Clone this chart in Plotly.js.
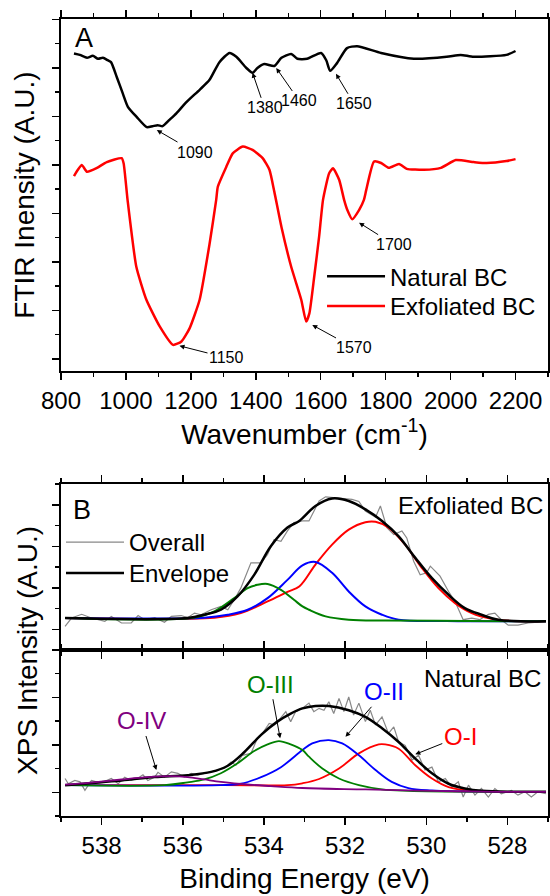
<!DOCTYPE html>
<html>
<head>
<meta charset="utf-8">
<script src="https://cdn.plot.ly/plotly-3.0.1.min.js"></script>
<style>html,body{margin:0;padding:0;background:#fff;}#chart{width:550px;height:896px;}</style>
</head>
<body>
<div id="chart"></div>
<script>
// ---------- FTIR data (panel A) ----------
const ftirNaturalX = [840,858,880,898,914,929,944,954,972,990,1006,1033,1064,1082,1098,1113,1134,1156,1187,1227,1257,1288,1319,1340,1371,1390,1405,1426,1457,1479,1509,1528,1558,1601,1617,1629,1650,1681,1712,1786,1887,1988,2031,2071,2172,2200];
const ftirNaturalY = [6.30,6.27,6.21,6.25,6.19,6.21,6.16,6.12,5.81,5.48,5.20,4.99,4.78,4.80,4.82,4.80,4.93,5.07,5.30,5.55,5.75,6.12,6.31,6.23,6.00,5.90,6.00,6.08,6.04,6.21,6.29,6.19,6.19,6.31,6.16,5.94,6.10,6.41,6.45,6.31,6.19,6.23,6.27,6.23,6.27,6.35];
const ftirExfolX = [840,852,864,880,911,941,987,993,1005,1032,1063,1104,1145,1171,1196,1227,1258,1278,1283,1309,1329,1360,1390,1421,1442,1457,1479,1509,1540,1555,1565,1580,1595,1607,1626,1638,1657,1672,1682,1697,1718,1733,1740,1764,1786,1810,1841,1865,1918,1970,2016,2071,2111,2172,2200];
const ftirExfolY = [3.77,3.90,4.00,3.86,3.94,4.06,4.14,4.03,3.28,1.90,1.22,0.67,0.29,0.36,0.63,1.22,2.39,3.28,3.55,3.96,4.24,4.38,4.31,4.14,3.90,3.45,2.72,1.90,1.22,0.77,0.94,1.70,2.52,3.28,3.83,3.93,3.69,3.28,3.07,2.88,3.07,3.28,3.48,4.07,4.04,3.94,4.02,3.92,3.90,3.94,4.10,4.06,4.04,4.08,4.12];
const ftirSeriesNames = ['Natural BC','Exfoliated BC'];
const ftirPeakLabels = ['1090','1380','1460','1650','1150','1570','1700'];
const ftirPeakX = [1095,1390,1463,1647,1165,1574,1718];
const ftirPeakY = [4.72,5.90,6.00,5.88,0.27,0.70,2.81];

// ---------- XPS data (panel B) : Exfoliated BC ----------
const exfOverallX = [538.90,538.74,538.49,538.25,537.92,537.76,537.51,537.27,537.10,536.94,536.69,536.45,536.28,536.04,535.88,535.71,535.55,535.30,535.06,534.89,534.73,534.57,534.32,534.07,533.91,533.75,533.58,533.42,533.26,533.05,532.89,532.64,532.48,532.23,532.07,531.83,531.66,531.50,531.25,531.13,530.97,530.80,530.60,530.48,530.31,530.15,529.99,529.90,529.66,529.45,529.29,529.09,528.88,528.68,528.47,528.31,528.15,527.98,527.74,527.49,527.25,527.05];
const exfOverallY = [0.07,0.27,0.36,0.27,0.19,0.31,0.15,0.15,0.33,0.23,0.28,0.17,0.31,0.33,0.28,0.39,0.35,0.47,0.55,0.47,0.71,0.99,1.60,1.60,1.80,2.16,2.12,2.37,2.57,2.61,2.61,3.09,3.19,3.17,3.16,3.13,3.08,2.85,2.70,2.97,2.45,2.28,2.37,2.20,1.64,1.31,1.36,1.52,1.28,0.91,0.67,0.23,0.27,0.23,0.36,0.39,0.23,0.10,0.10,0.15,0.17,0.19];
const exfEnvelopeX = [538.90,535.88,535.47,535.06,534.65,534.24,533.83,533.42,533.13,532.73,532.32,531.91,531.50,531.09,530.68,530.27,529.86,529.45,529.05,528.64,528.23,527.05];
const exfEnvelopeY = [0.27,0.27,0.35,0.47,0.79,1.31,2.00,2.45,2.61,2.97,3.15,3.09,2.89,2.61,2.24,1.72,1.23,0.83,0.51,0.35,0.23,0.19];
const exfOIX = [538.90,535.22,534.57,533.91,533.42,533.13,532.73,532.32,531.91,531.50,531.25,530.93,530.52,530.11,529.70,529.29,528.88,528.39,527.90,527.05];
const exfOIY = [0.27,0.28,0.39,0.67,0.90,1.03,1.56,2.04,2.40,2.58,2.59,2.45,2.04,1.48,0.99,0.63,0.39,0.25,0.20,0.19];
const exfOIIX = [538.90,535.47,534.89,534.40,533.91,533.42,533.05,532.73,532.32,531.91,531.50,531.09,530.68,529.50,527.05];
const exfOIIY = [0.27,0.28,0.35,0.47,0.75,1.19,1.54,1.62,1.36,0.91,0.55,0.35,0.23,0.20,0.19];
const exfOIIIX = [538.90,535.70,535.22,534.73,534.40,534.16,533.91,533.58,533.26,533.05,532.89,532.48,531.91,531.00,529.00,527.05];
const exfOIIIY = [0.27,0.28,0.43,0.75,0.99,1.07,1.09,0.95,0.71,0.55,0.47,0.31,0.23,0.21,0.20,0.19];

// ---------- XPS data (panel B) : Natural BC ----------
const natOverallX = [538.90,538.82,538.66,538.53,538.41,538.25,538.08,537.92,537.76,537.59,537.43,537.27,537.10,536.98,536.86,536.69,536.61,536.45,536.28,536.12,535.96,535.79,535.63,535.47,535.30,535.14,534.98,534.81,534.69,534.53,534.32,534.16,534.04,533.87,533.75,533.63,533.46,533.34,533.22,533.05,533.01,532.89,532.77,532.64,532.52,532.40,532.28,532.15,532.03,531.91,531.79,531.66,531.50,531.38,531.25,531.09,530.93,530.80,530.68,530.52,530.35,530.19,530.03,529.86,529.70,529.53,529.37,529.21,529.09,528.96,528.80,528.64,528.47,528.31,528.15,527.90,527.74,527.57,527.41,527.25,527.05];
const natOverallY = [0.29,0.18,0.25,0.22,0.04,0.25,0.21,0.23,0.29,0.18,0.32,0.25,0.30,0.37,0.25,0.32,0.42,0.32,0.43,0.40,0.32,0.40,0.36,0.40,0.43,0.47,0.50,0.64,0.57,0.78,0.82,1.14,1.24,1.45,1.42,1.52,1.70,1.49,1.70,1.77,1.80,1.88,1.70,1.77,1.73,1.91,1.66,1.98,1.70,2.01,1.63,1.88,1.49,1.73,1.42,1.59,1.24,1.38,1.06,0.99,0.68,0.78,0.47,0.53,0.22,0.29,0.11,0.22,-0.10,0.15,-0.06,0.08,-0.10,0.08,-0.03,0.04,-0.06,0.01,-0.10,0.01,-0.03];
const natEnvelopeX = [538.90,537.51,536.69,535.88,535.30,534.89,534.48,534.07,533.67,533.34,533.05,532.73,532.40,531.91,531.50,531.09,530.68,530.27,529.86,529.45,529.05,528.64,527.05];
const natEnvelopeY = [0.15,0.25,0.32,0.36,0.43,0.56,0.85,1.21,1.49,1.66,1.77,1.82,1.82,1.73,1.59,1.35,1.06,0.71,0.40,0.18,0.08,0.03,0.01];
const natOIX = [538.90,535.00,533.42,533.05,532.64,532.15,531.66,531.17,531.01,530.68,530.27,529.86,529.45,528.88,528.23,527.05];
const natOIY = [0.15,0.15,0.15,0.19,0.28,0.50,0.82,1.01,1.01,0.92,0.57,0.29,0.11,0.03,0.01,0.01];
const natOIIX = [538.90,535.06,534.57,534.07,533.58,533.05,532.81,532.40,532.07,531.66,531.25,530.85,530.44,529.86,528.50,527.05];
const natOIIY = [0.15,0.15,0.18,0.32,0.53,0.89,1.03,1.10,1.03,0.78,0.47,0.22,0.09,0.04,0.01,0.01];
const natOIIIX = [538.90,536.45,535.88,535.47,535.06,534.65,534.24,533.91,533.63,533.34,533.05,532.89,532.56,532.15,531.66,531.09,530.44,528.50,527.05];
const natOIIIY = [0.15,0.15,0.21,0.27,0.40,0.61,0.87,1.01,1.08,1.01,0.89,0.75,0.50,0.29,0.15,0.06,0.03,0.01,0.01];
const natOIVX = [538.90,538.33,537.51,536.86,536.28,535.88,535.47,535.06,534.65,533.83,533.05,531.50,529.86,528.23,527.05];
const natOIVY = [0.16,0.20,0.27,0.32,0.34,0.32,0.27,0.22,0.18,0.13,0.09,0.06,0.03,0.01,0.01];

const xpsSeriesNames = ['Overall','Envelope'];
const xpsSampleNames = ['Exfoliated BC','Natural BC'];
const xpsPeakLabels = ['O-IV','O-III','O-II','O-I'];
const xpsPeakX = [536.65,533.60,531.99,530.27];
const xpsPeakY = [0.47,1.14,1.17,0.80];

// ---------- styles ----------
const FONT = 'Arial, "Liberation Sans", sans-serif';
const cRed = '#ff0000', cBlue = '#0000ff', cGreen = '#008000', cPurple = '#800080', cGray = '#888888';

const traces = [
  {x: ftirNaturalX, y: ftirNaturalY, xaxis:'x', yaxis:'y', type:'scatter', mode:'lines', name: ftirSeriesNames[0],
   line:{color:'#000', width:2.5, shape:'spline', smoothing:0.6}, legend:'legend'},
  {x: ftirExfolX, y: ftirExfolY, xaxis:'x', yaxis:'y', type:'scatter', mode:'lines', name: ftirSeriesNames[1],
   line:{color:cRed, width:2.5, shape:'spline', smoothing:0.5}, legend:'legend2'},

  // Exfoliated XPS
  {x: exfOverallX, y: exfOverallY, xaxis:'x2', yaxis:'y2', mode:'lines', name: xpsSeriesNames[0], legend:'legend3',
   line:{color:cGray, width:1.2}},
  {x: exfOIX, y: exfOIY, xaxis:'x2', yaxis:'y2', mode:'lines', showlegend:false, line:{color:cRed, width:2, shape:'spline'}},
  {x: exfOIIX, y: exfOIIY, xaxis:'x2', yaxis:'y2', mode:'lines', showlegend:false, line:{color:cBlue, width:2, shape:'spline'}},
  {x: exfOIIIX, y: exfOIIIY, xaxis:'x2', yaxis:'y2', mode:'lines', showlegend:false, line:{color:cGreen, width:2, shape:'spline'}},
  {x: exfEnvelopeX, y: exfEnvelopeY, xaxis:'x2', yaxis:'y2', mode:'lines', name: xpsSeriesNames[1], legend:'legend4',
   line:{color:'#000', width:2.5, shape:'spline'}},

  // Natural XPS
  {x: natOverallX, y: natOverallY, xaxis:'x3', yaxis:'y3', mode:'lines', showlegend:false, line:{color:cGray, width:1.2}},
  {x: natOIX, y: natOIY, xaxis:'x3', yaxis:'y3', mode:'lines', showlegend:false, line:{color:cRed, width:1.8, shape:'spline'}},
  {x: natOIIX, y: natOIIY, xaxis:'x3', yaxis:'y3', mode:'lines', showlegend:false, line:{color:cBlue, width:1.8, shape:'spline'}},
  {x: natOIIIX, y: natOIIIY, xaxis:'x3', yaxis:'y3', mode:'lines', showlegend:false, line:{color:cGreen, width:1.8, shape:'spline'}},
  {x: natEnvelopeX, y: natEnvelopeY, xaxis:'x3', yaxis:'y3', mode:'lines', showlegend:false, line:{color:'#000', width:2.5, shape:'spline'}},
  {x: natOIVX, y: natOIVY, xaxis:'x3', yaxis:'y3', mode:'lines', showlegend:false, line:{color:cPurple, width:1.8, shape:'spline'}}
];

function tickAxis(extra){
  return Object.assign({
    showline:true, linewidth:2, linecolor:'#000', showgrid:false, zeroline:false,
    ticks:'outside', ticklen:7, tickwidth:1.5, tickcolor:'#000',
    tickfont:{family:FONT, size:24, color:'#000'}
  }, extra);
}
function legendAt(x, y){
  return {x:x, y:y, xanchor:'left', yanchor:'top', bgcolor:'rgba(0,0,0,0)', itemwidth:58,
    font:{family:FONT, size:24, color:'#000'}, tracegroupgap:0};
}

const annotations = [];
const ftirAx = [38,12,23,18,47,42,35];
const ftirAy = [22,35,33,30,12,23,22];
ftirPeakLabels.forEach((t,i)=>{
  annotations.push({xref:'x', yref:'y', x:ftirPeakX[i], y:ftirPeakY[i], text:t, showarrow:true,
    ax:ftirAx[i], ay:ftirAy[i], arrowhead:2, arrowsize:1, arrowwidth:1, arrowcolor:'#000',
    font:{family:FONT, size:16, color:'#000'}});
});
const xpsAx = [-15,-10,39,45];
const xpsAy = [-49,-54,-45,-18];
const xpsColors = [cPurple, cGreen, cBlue, cRed];
xpsPeakLabels.forEach((t,i)=>{
  annotations.push({xref:'x3', yref:'y3', x:xpsPeakX[i], y:xpsPeakY[i], text:t, showarrow:true,
    ax:xpsAx[i], ay:xpsAy[i], arrowhead:2, arrowsize:1, arrowwidth:1, arrowcolor:'#000',
    font:{family:FONT, size:24, color:xpsColors[i]}});
});
annotations.push(
  {xref:'paper', yref:'paper', x:0.0472, y:0.9762, text:'A', showarrow:false, xanchor:'center', yanchor:'middle', font:{family:FONT, size:27}},
  {xref:'paper', yref:'paper', x:0.0431, y:0.3839, text:'B', showarrow:false, xanchor:'center', yanchor:'middle', font:{family:FONT, size:27}},
  {xref:'paper', yref:'paper', x:0.9938, y:0.3890, text:xpsSampleNames[0], showarrow:false, xanchor:'right', yanchor:'middle', font:{family:FONT, size:24}},
  {xref:'paper', yref:'paper', x:0.9897, y:0.1719, text:xpsSampleNames[1], showarrow:false, xanchor:'right', yanchor:'middle', font:{family:FONT, size:24}},
  {xref:'paper', yref:'paper', x:-0.0678, y:0.2083, text:'XPS Intensity (A.U.)', textangle:-90, showarrow:false, xanchor:'center', yanchor:'middle', font:{family:FONT, size:28}}
);

const layout = {
  width:550, height:896,
  margin:{l:61, r:2, t:19, b:80},
  paper_bgcolor:'#fff', plot_bgcolor:'#fff',
  font:{family:FONT, size:24, color:'#000'},
  showlegend:true,
  legend: legendAt(0.536, 0.7051),
  legend2: legendAt(0.536, 0.6675),
  legend3: legendAt(0.0, 0.3714),
  legend4: legendAt(0.0, 0.3325),
  xaxis: tickAxis({domain:[0,1], anchor:'y', range:[800,2300], tick0:800, dtick:200, mirror:'ticks',
    minor:{dtick:100, ticks:'outside', ticklen:4, tickwidth:1.5, tickcolor:'#000'},
    title:{text:'Wavenumber (cm<sup>-1</sup>)', font:{family:FONT, size:28}, standoff:9}}),
  yaxis: tickAxis({domain:[0.5583,1], anchor:'x', range:[-0.25,7.01], tick0:0, dtick:1, mirror:true, showticklabels:false,
    minor:{dtick:0.5, ticks:'outside', ticklen:4, tickwidth:1.5, tickcolor:'#000'},
    title:{text:'FTIR Inensity (A.U.)', font:{family:FONT, size:28}, standoff:9}}),
  xaxis2: tickAxis({domain:[0,1], anchor:'y2', range:[539,527], tick0:528, dtick:2, mirror:'ticks', showticklabels:false,
    minor:{dtick:1, ticks:'outside', ticklen:4, tickwidth:1.5, tickcolor:'#000'}}),
  yaxis2: tickAxis({domain:[0.20828,0.41656], anchor:'x2', range:[-0.5,3.5], tick0:0, dtick:1, mirror:true, showticklabels:false,
    minor:{dtick:0.5, ticks:'outside', ticklen:4, tickwidth:1.5, tickcolor:'#000'}}),
  xaxis3: tickAxis({domain:[0,1], anchor:'y3', matches:'x2', range:[539,527], tick0:528, dtick:2, mirror:'ticks',
    minor:{dtick:1, ticks:'outside', ticklen:4, tickwidth:1.5, tickcolor:'#000'},
    title:{text:'Binding Energy (eV)', font:{family:FONT, size:28}, standoff:11}}),
  yaxis3: tickAxis({domain:[0,0.20828], anchor:'x3', range:[-0.5,3], tick0:0, dtick:1, mirror:true, showticklabels:false,
    minor:{dtick:0.5, ticks:'outside', ticklen:4, tickwidth:1.5, tickcolor:'#000'}}),
  annotations: annotations
};

Plotly.newPlot('chart', traces, layout, {displayModeBar:false, staticPlot:true});
</script>
</body>
</html>
